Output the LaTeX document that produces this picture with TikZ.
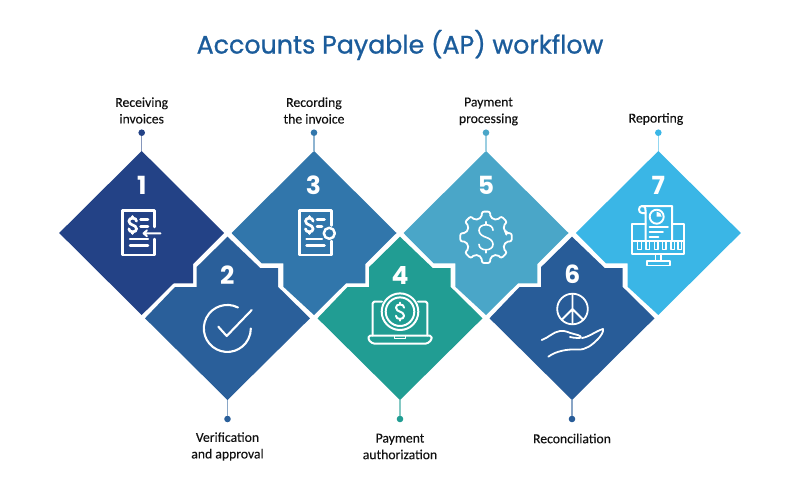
\documentclass[tikz,border=0pt]{standalone}
\usepackage{fontspec}
\setmainfont{Carlito}[FakeBold=0.2]
\newfontfamily\titlefont{Poppins}[FakeBold=0.9]
\newfontfamily\numfont{Poppins}
\definecolor{cellone}{HTML}{234286}
\definecolor{celltwo}{HTML}{2A5F9A}
\definecolor{cellthree}{HTML}{3176AB}
\definecolor{cellfour}{HTML}{219D93}
\definecolor{cellfive}{HTML}{4AA6C8}
\definecolor{cellsix}{HTML}{285C98}
\definecolor{cellseven}{HTML}{3AB6E6}
\definecolor{titleblue}{HTML}{1B5C9B}
\definecolor{labelgray}{HTML}{111111}
\tikzset{
	steplabel/.style={font=\fontsize{13.7}{16.6}\selectfont, text=labelgray, align=center, inner sep=0pt},
	stepnum/.style={font=\numfont\bfseries\fontsize{25}{25}\selectfont, text=white, inner sep=0pt},
	icon/.style={draw=white, line width=2.5pt, line join=round, line cap=round},
	thinicon/.style={draw=white, line width=1.8pt, line join=round, line cap=round},
	tipdot/.style={circle, inner sep=0pt, minimum size=6.6pt, fill=#1},
	stem/.style={line width=1.5pt, draw=#1!55!white}
}
% cut outlines, from the centre of a cell
\def\oddright{-- (51.3,31) -- (51.3,50.3) -- (32,50.3)}
\def\oddleft{-- (-30.7,53.7) -- (-30.7,30.3) -- (-52.3,30.3)}
\def\dollarmark(#1)[#2][#3]{
	\begin{scope}[shift={(#1)}, scale=#2]
		\draw[icon, line width=#3pt] (7,-7) .. controls (7,-10.5) and (4,-12.5) .. (0,-12.5) .. controls (-4,-12.5) and (-7,-10.5) .. (-7,-7) .. controls (-7,-3) and (-3,-1) .. (0,0) .. controls (3,1) and (7,3) .. (7,7) .. controls (7,10.5) and (4,12.5) .. (0,12.5) .. controls (-4,12.5) and (-7,10.5) .. (-7,7);
		\draw[icon, line width=#3pt] (0,-12.5) -- (0,-15.5) (0,12.5) -- (0,15.5);
	\end{scope}
}
\begin{document}
\begin{tikzpicture}[x=1pt, y=-1pt]
	\useasboundingbox (0,0) rectangle (800,500);
	
	\node[font=\titlefont\fontsize{25.3}{25.3}\selectfont, text=titleblue, inner sep=0pt] (title) at (400,45) {Accounts Payable (AP) workflow};
	
	%%%%% CELLS %%%%%
	\begin{scope}[shift={(141.7,233)}]
		\fill[cellone] (0,-82) coordinate (topone) -- (82.5,0) \oddright -- (0,82) -- (-82.5,0) -- cycle;
	\end{scope}
	\begin{scope}[shift={(314,233)}]
		\fill[cellthree] (0,-82) coordinate (topthree) -- (82.5,0) \oddright -- (0,82) \oddleft -- (-82.5,0) -- cycle;
	\end{scope}
	\begin{scope}[shift={(486,233)}]
		\fill[cellfive] (0,-82) coordinate (topfive) -- (82.5,0) \oddright -- (0,82) \oddleft -- (-82.5,0) -- cycle;
	\end{scope}
	\begin{scope}[shift={(658.3,233)}]
		\fill[cellseven] (0,-82) coordinate (topseven) -- (82.5,0) -- (0,82) \oddleft -- (-82.5,0) -- cycle;
	\end{scope}
	
	\foreach \cx/\cc/\nm in {227.5/celltwo/two, 400/cellfour/four, 572/cellsix/six}{
		\begin{scope}[shift={(\cx,318.3)}]
			\fill[\cc] (0,-81.6) -- (32.7,-50.3) -- (50.7,-50.3) -- (50.7,-31.3) -- (82.5,0) -- (0,81.7) coordinate (bot\nm) -- (-82.5,0) -- (-52.5,-31.3) -- (-30.8,-31.3) -- (-30.8,-51.3) -- cycle;
		\end{scope}
	}
	
	%%%%% TIPS %%%%%
	\node[tipdot=cellone] (dotone) at (141.7,132.7) {};
	\node[tipdot=cellthree] (dotthree) at (314,132.7) {};
	\node[tipdot=cellfive] (dotfive) at (486,132.7) {};
	\node[tipdot=cellseven] (dotseven) at (658.3,132.7) {};
	\node[tipdot=celltwo] (dottwo) at (227.5,419) {};
	\node[tipdot=cellfour] (dotfour) at (400,419) {};
	\node[tipdot=cellsix] (dotsix) at (572,419) {};
	
	\draw[stem=cellone] (dotone) -- (topone);
	\draw[stem=cellthree] (dotthree) -- (topthree);
	\draw[stem=cellfive] (dotfive) -- (topfive);
	\draw[stem=cellseven] (dotseven) -- (topseven);
	\draw[stem=celltwo] (dottwo) -- (bottwo);
	\draw[stem=cellfour] (dotfour) -- (botfour);
	\draw[stem=cellsix] (dotsix) -- (botsix);
	
	%%%%% LABELS %%%%%
	\node[steplabel] (labelone) at (141.7,110.5) {Receiving\\invoices};
	\node[steplabel] (labelthree) at (314,110.5) {Recording\\the invoice};
	\node[steplabel] (labelfive) at (488.5,111.5) {Payment\\processing};
	\node[steplabel] (labelseven) at (656,119) {Reporting};
	\node[steplabel] (labeltwo) at (227.5,446.5) {Verification\\and approval};
	\node[steplabel] (labelfour) at (400,446.5) {Payment\\authorization};
	\node[steplabel] (labelsix) at (572,438.5) {Reconciliation};
	
	%%%%% NUMBERS %%%%%
	\node[stepnum] (numone) at (141.7,185.5) {1};
	\node[stepnum] (numtwo) at (227.3,275) {2};
	\node[stepnum] (numthree) at (313.5,185.5) {3};
	\node[stepnum] (numfour) at (400,275) {4};
	\node[stepnum] (numfive) at (486,185.5) {5};
	\node[stepnum] (numsix) at (572.3,274.5) {6};
	\node[stepnum] (numseven) at (658.3,185.5) {7};
	
	%%%%% ICONS %%%%%
	% 1
	\draw[icon] (154.7,227) -- (154.7,210.7) -- (122.7,210.7) -- (122.7,255) -- (154.7,255) -- (154.7,239);
	\dollarmark(132.7,225)[0.55][2.7]
	\draw[icon] (140.5,219.3) -- (148,219.3) (140.5,226.5) -- (148,226.5) (130,239) -- (148,239) (130,245.7) -- (148,245.7);
	\draw[icon, line width=1.9pt] (143.5,233.3) -- (160.5,233.3) (147,230.3) -- (143.5,233.3) -- (147,236.3);
	
	% 3
	\draw[icon] (331.3,225.5) -- (331.3,210.7) -- (299.3,210.7) -- (299.3,255) -- (331.3,255) -- (331.3,241);
	\dollarmark(309.3,225)[0.55][2.7]
	\draw[icon] (317,219.3) -- (324.5,219.3) (317,226.5) -- (322,226.5) (306.5,239) -- (322,239) (306.5,245.7) -- (324.5,245.7);
	\draw[icon] (329.3,233.3) circle (5.5);
	
	% 2
	\draw[icon, line width=2.1pt] (238,307.5) arc[start angle=-63, delta angle=-297, radius=23.5];
	\draw[icon, line width=2.1pt] (218.3,326.7) -- (226.7,336) -- (251.7,310);
	
	% 4
	\draw[icon, line width=2pt, rounded corners=1.5pt] (382,301.7) -- (372.7,301.7) -- (372.7,335.5) (427.3,335.5) -- (427.3,301.7) -- (418,301.7);
	\draw[icon, line width=2pt, rounded corners=1.5pt] (368.5,335.7) -- (431.5,335.7) -- (431.5,340) -- (427,343.7) -- (373,343.7) -- (368.5,340) -- cycle;
	\draw[icon, line width=1.5pt] (394.5,336) -- (394.5,338.5) -- (405.5,338.5) -- (405.5,336);
	\draw[icon, line width=2pt] (400,311.7) circle (18.3) (400,311.7) circle (14.3);
	\dollarmark(400,311.7)[0.58][2]
	
	% 5
	\begin{scope}[shift={(486,237.3)}]
		\draw[thinicon, rounded corners=2pt] (-13:20.5) \foreach \a in {0,45,...,315}{ -- (\a-12:20.5) -- (\a-9:26) -- (\a+9:26) -- (\a+12:20.5) -- (\a+22.5:19.8)} -- cycle;
	\end{scope}
	\dollarmark(486,237.3)[1][1.6]
	
	% 6
	\draw[icon, line width=1.8pt] (572.5,309) circle (15.3);
	\draw[icon, line width=1.8pt] (572.5,293.7) -- (572.5,324.3) (572.5,309) -- (561.7,319.8) (572.5,309) -- (583.3,319.8);
	\draw[thinicon] (541.7,340) .. controls (548,338) and (553,332) .. (560,331) .. controls (565,330) and (569,333) .. (574,334) .. controls (580,335) and (584,338) .. (578,338) .. controls (575,338) and (572,337.5) .. (570,337);
	\draw[thinicon] (582,338) .. controls (589,337) and (596,331) .. (603,329) .. controls (604,331) and (601,336) .. (598,339) .. controls (592,345) and (586,350) .. (578,349.5) .. controls (567,349) and (556,351) .. (548.3,356.7);
	
	% 7
	\draw[icon, line width=2pt] (645.7,223.5) -- (632,223.5) -- (632,253.5) -- (684,253.5) -- (684,223.5) -- (672,223.5);
	\draw[icon, line width=2pt] (632,241) -- (684,241);
	\draw[icon, line width=2pt] (672,241) -- (672,206) -- (642,206) .. controls (638,206) and (638,213) .. (642,213) -- (645.7,213) -- (645.7,241);
	\draw[icon, line width=2pt] (642,206) .. controls (646,206) and (645.7,210) .. (645.7,213);
	\draw[icon, line width=1.9pt] (656.7,216.7) circle (7);
	\fill[white] (656.7,216.7) -- (656.7,211.7) arc[start angle=-90, delta angle=90, radius=5] -- cycle;
	\draw[icon, line width=1.7pt] (649.5,227.3) -- (668,227.3) (649.5,232.3) -- (663,232.3) (649.5,236.7) -- (658.5,236.7);
	\foreach \kx in {637.7,646,654.3,662.6,670.9,678}{
		\draw[icon, line width=1.5pt] (\kx,241) -- (\kx,249.5) -- (\kx+3.6,249.5) -- (\kx+3.6,241);
	}
	\draw[icon, line width=1.8pt] (655.5,254) -- (655.5,261) (661,254) -- (661,261);
	\draw[icon, line width=1.8pt] (646.7,261) rectangle (670,265.5);
\end{tikzpicture}
\end{document}
